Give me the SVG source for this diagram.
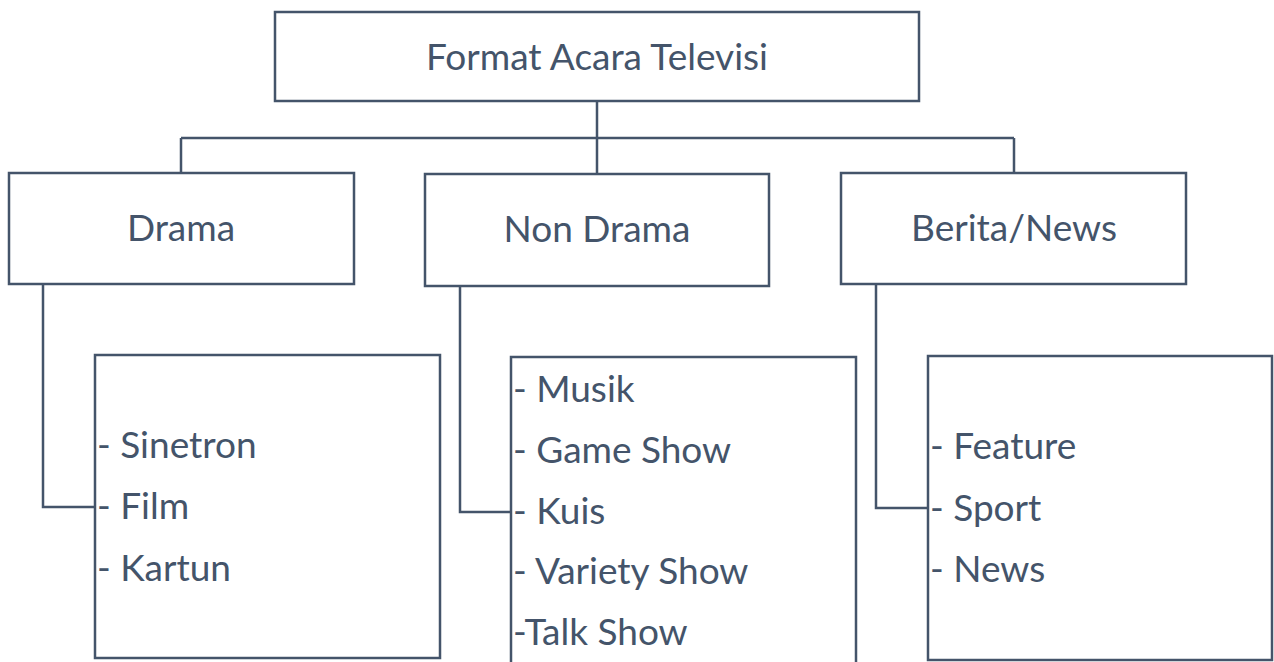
<svg xmlns="http://www.w3.org/2000/svg" width="1274" height="662" viewBox="0 0 1274 662">
<style>
.box{fill:#fff;stroke:#44546A;stroke-width:2.5}
.ln{fill:none;stroke:#44546A;stroke-width:2.5}
.t{font-family:Lato,"Liberation Sans",sans-serif;font-size:37px;fill:#44546A}
.c{text-anchor:middle}
</style>
<rect width="1274" height="662" fill="#fff"/>
<g id="connectors">
<path class="ln" d="M597 101V173M181 138H1014M181 138V173M1014 138V173"/>
<path class="ln" d="M43 284V507H95"/>
<path class="ln" d="M460 286V512H511"/>
<path class="ln" d="M876 284V508H928"/>
</g>
<g id="root"><rect class="box" x="275" y="12" width="644" height="89"/><text class="t c" x="597" y="70">Format Acara Televisi</text></g>
<g id="drama"><rect class="box" x="9" y="173" width="345" height="111"/><text class="t c" x="181" y="241">Drama</text></g>
<g id="nondrama"><rect class="box" x="425" y="174" width="344" height="112"/><text class="t c" x="597" y="242">Non Drama</text></g>
<g id="berita"><rect class="box" x="841" y="173" width="345" height="111"/><text class="t c" x="1014" y="241">Berita/News</text></g>
<g id="drama-list"><rect class="box" x="95" y="355" width="345" height="303"/>
<text class="t" x="97" y="458">- Sinetron</text><text class="t" x="97" y="519">- Film</text><text class="t" x="97" y="581">- Kartun</text></g>
<g id="nondrama-list"><rect class="box" x="511" y="357" width="345" height="320"/>
<text class="t" x="513" y="402">- Musik</text><text class="t" x="513" y="463">- Game Show</text><text class="t" x="513" y="524">- Kuis</text><text class="t" x="513" y="584">- Variety Show</text><text class="t" x="513" y="645">-Talk Show</text></g>
<g id="berita-list"><rect class="box" x="928" y="356" width="344" height="304"/>
<text class="t" x="930" y="459">- Feature</text><text class="t" x="930" y="521">- Sport</text><text class="t" x="930" y="582">- News</text></g>
</svg>
